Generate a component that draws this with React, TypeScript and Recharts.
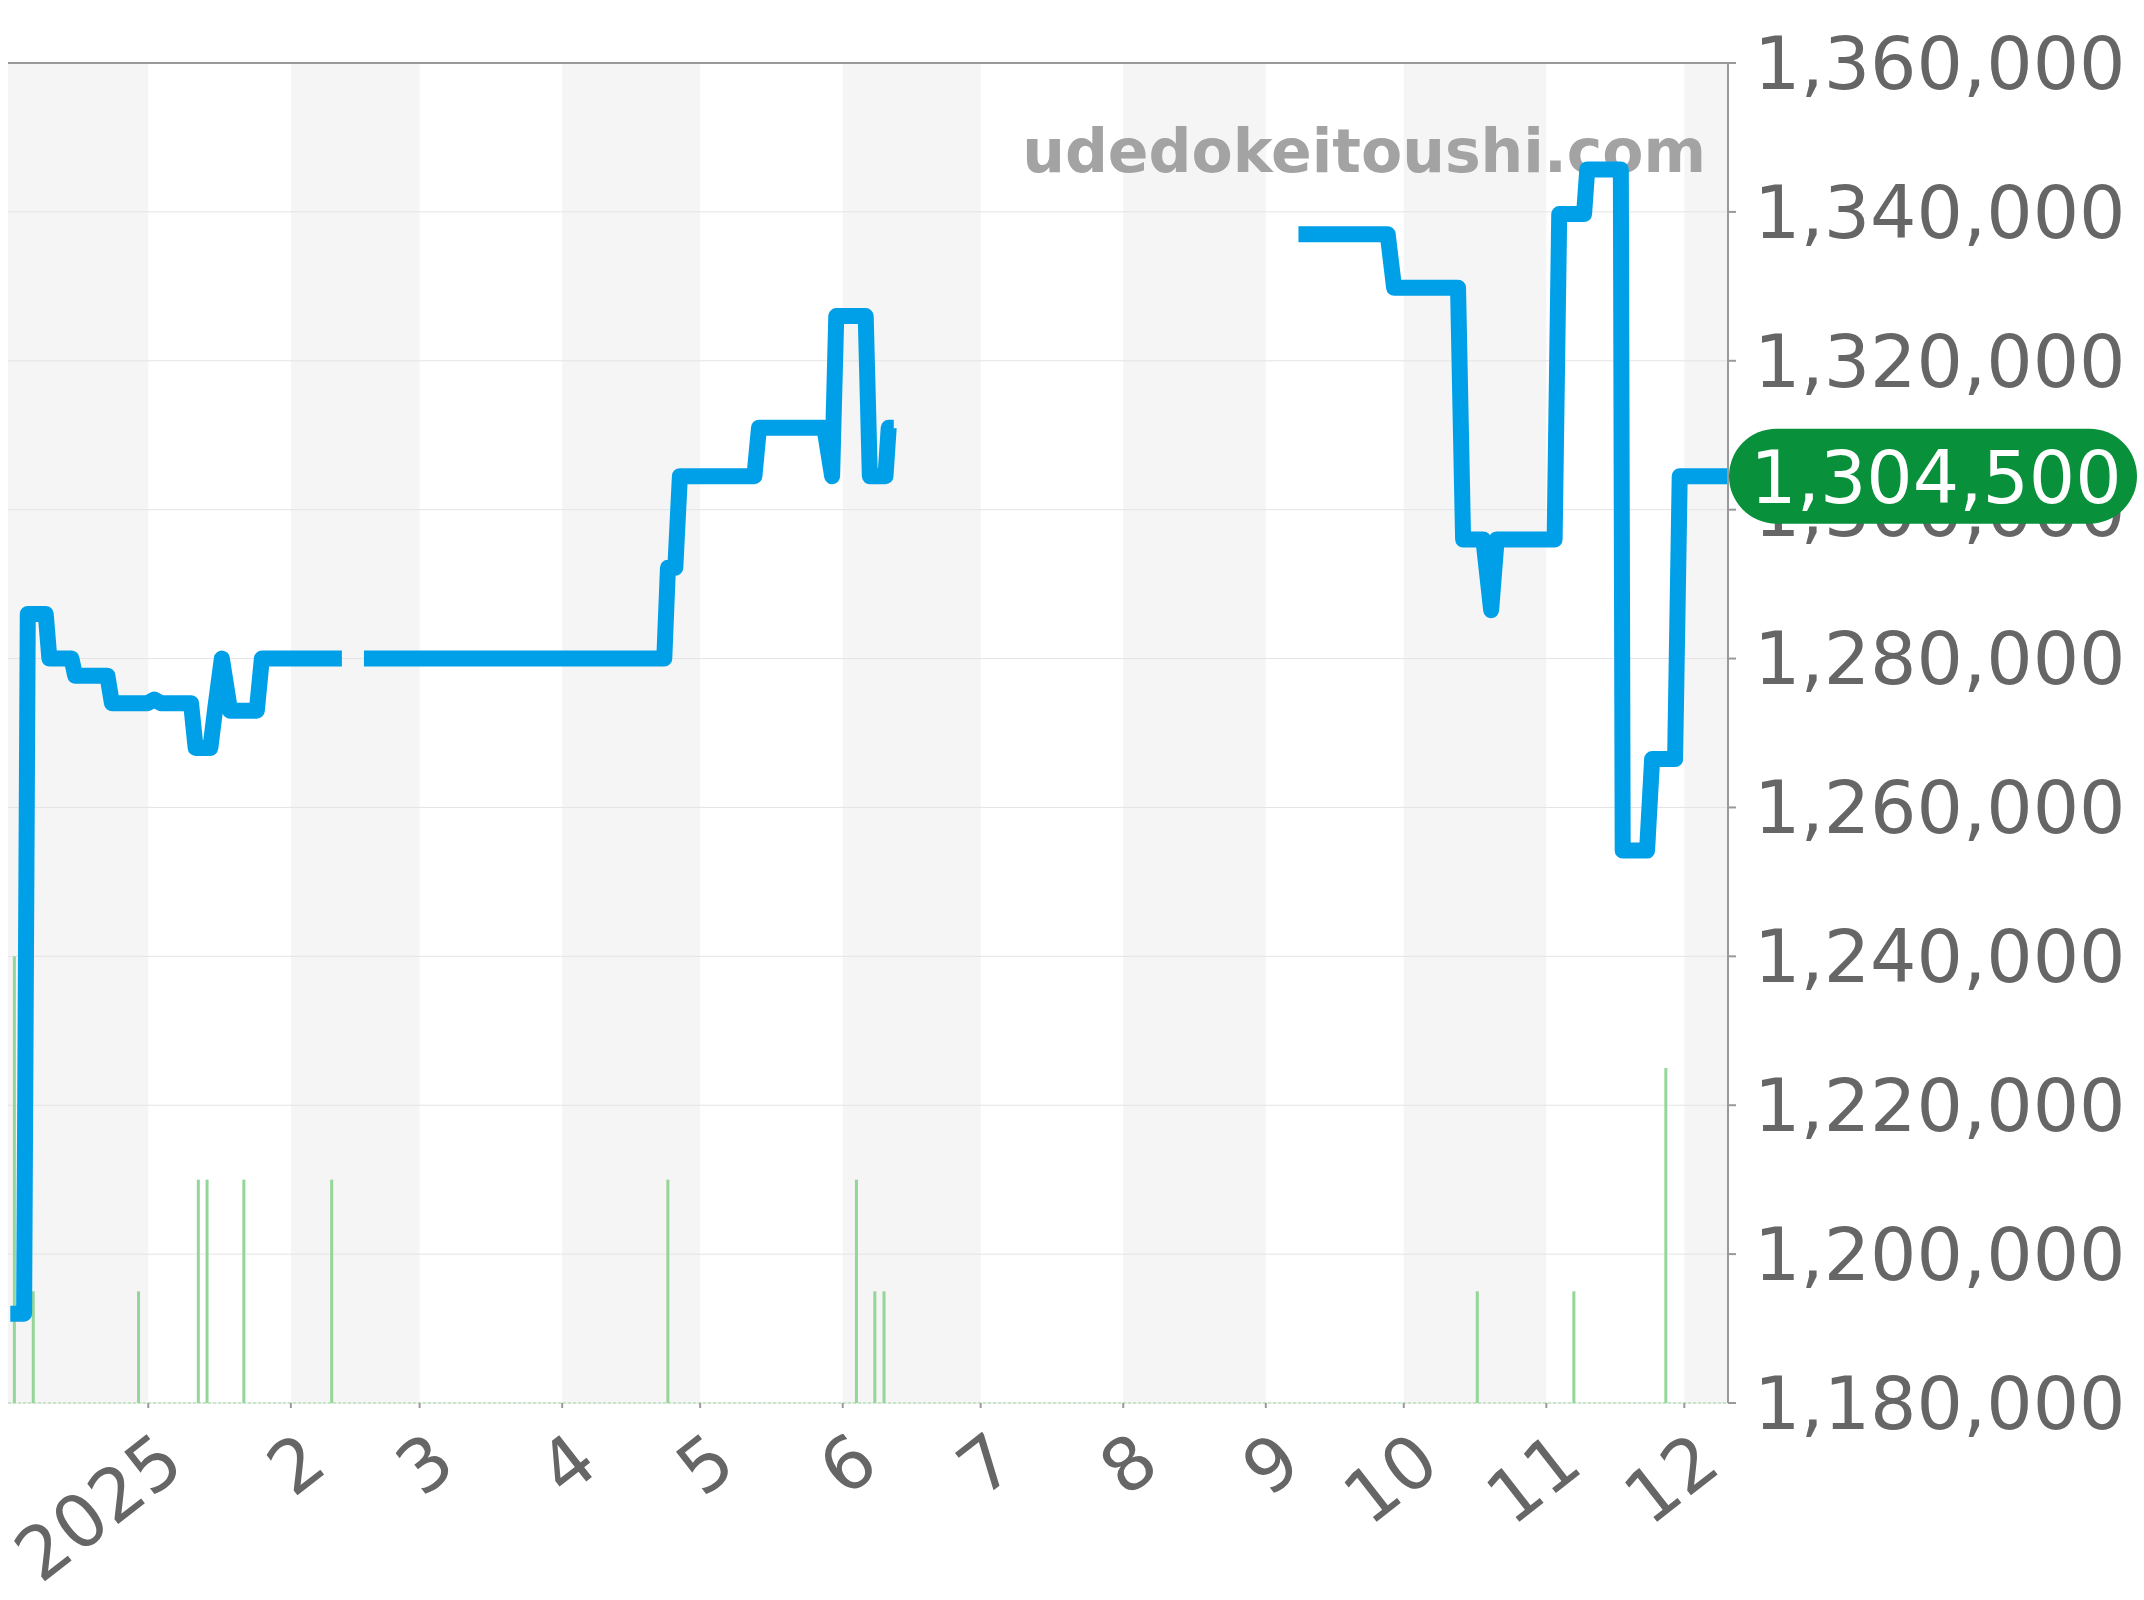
import { ComposedChart, Line, Bar, XAxis, YAxis, CartesianGrid, ReferenceArea, ReferenceLine } from "recharts";

// x values are days counted from 2025-01-01 (negative = December 2024)
const monthTicks = [0, 31, 59, 90, 120, 151, 181, 212, 243, 273, 304, 334];
const monthLabels = ["2025", "2", "3", "4", "5", "6", "7", "8", "9", "10", "11", "12"];

// shaded months: Dec, Feb, Apr, Jun, Aug, Oct, Dec
const bandStarts = [-31, 31, 90, 151, 212, 273, 334];
const bandEnds = [0, 59, 120, 181, 243, 304, 365];

const priceTicks = [1180000, 1200000, 1220000, 1240000, 1260000, 1280000, 1300000, 1320000, 1340000, 1360000];

const priceDays = [
  -30.0, -27.0, -26.2, -22.3, -21.5, -16.7, -15.9, -8.9, -7.9, -0.2, 1.3, 2.8, 9.3, 10.3, 13.5, 14.6, 16.0, 17.8, 23.6, 24.7,
  42.1, 44.5, 46.9, 112.2, 113.0, 114.6, 115.6, 131.8, 132.8, 147.0, 148.7, 149.6, 156.0, 156.9, 160.3, 161.0, 162.1,
  200, 250.1, 269.5, 270.9, 284.8, 285.9, 290.3, 292.0, 293.2, 305.8, 306.8, 312.2, 312.9, 320.2, 320.6, 325.9, 327.0,
  332.0, 333.0, 343.5,
];
const priceValues = [
  1192000, 1192000, 1286000, 1286000, 1280000, 1280000, 1277700, 1277700, 1274000, 1274000, 1274500, 1274000, 1274000,
  1268000, 1268000, 1273500, 1280000, 1273000, 1273000, 1280000,
  1280000, null, 1280000, 1280000, 1292200, 1292200, 1304500, 1304500, 1311000, 1311000, 1304500, 1326000, 1326000,
  1304500, 1304500, 1311000, 1311000,
  null, 1337000, 1337000, 1329800, 1329800, 1296000, 1296000, 1286500, 1296000, 1296000, 1339700, 1339700, 1345700,
  1345700, 1254200, 1254200, 1266500, 1266500, 1304500, 1304500,
];

const volumeDays = [-29.1, -25.0, -2.1, 10.9, 12.8, 20.8, 39.9, 113.0, 154.0, 158.0, 160.0, 289.0, 310.0, 330.0];
const volumeCounts = [4, 1, 1, 2, 2, 2, 2, 2, 2, 1, 1, 1, 1, 3];

const priceData = priceDays.map((day, i) => ({ day, price: priceValues[i] }));
const volumeData = volumeDays.map((day, i) => ({ day, count: volumeCounts[i] }));
const lastPrice = priceValues[priceValues.length - 1] as number;

const FONT = "DejaVu Sans";

document.body.style.margin = "0";
document.body.style.overflow = "hidden";

function MonthTick(props: any) {
  const { x, y, payload } = props;
  const label = monthLabels[monthTicks.indexOf(payload.value)];
  const tx = x + 39;
  const ty = y + 60;
  return (
    <text x={tx} y={ty} transform={`rotate(-38 ${tx} ${ty})`} textAnchor="end" fontSize={73} fill="#666" fontFamily={FONT}>
      {label}
    </text>
  );
}

// thin volume stick, centred on the position recharts computed for the bar
function VolumeStick(props: any) {
  const { x, y, width, height } = props;
  if (!height) return null;
  return <rect x={x + width / 2 - 1.5} y={y} width={3} height={height} fill="#94d697" />;
}

function Watermark(props: any) {
  const vb = props.viewBox;
  return (
    <text x={vb.x + vb.width - 22} y={vb.y + 109} textAnchor="end" fontSize={60} fontWeight="bold" fill="#a3a3a3" fontFamily={FONT}>
      udedokeitoushi.com
    </text>
  );
}

function PriceBadge(props: any) {
  const vb = props.viewBox;
  const left = vb.x + vb.width + 1;
  return (
    <g>
      <rect x={left} y={vb.y - 47.5} width={408} height={95} rx={47.5} ry={47.5} fill="#09903b" />
      <text x={left + 207} y={vb.y + 27} textAnchor="middle" fontSize={73} fill="#fff" fontFamily={FONT}>
        {lastPrice.toLocaleString("en-US")}
      </text>
    </g>
  );
}

export default function App() {
  return (
    <div style={{ width: 2144, height: 1600, background: "#fff", fontFamily: FONT }}>
      <ComposedChart width={2144} height={1600} data={volumeData} margin={{ top: 63, right: 0, bottom: 0, left: 8 }}>
        {bandStarts.map((s, i) => (
          <ReferenceArea
            key={s}
            x1={s}
            x2={bandEnds[i]}
            yAxisId="price"
            fill="#f5f5f5"
            fillOpacity={1}
            stroke="none"
            ifOverflow="hidden"
            zIndex={-150}
          />
        ))}
        <CartesianGrid yAxisId="price" vertical={false} stroke="#e4e4e4" />
        <ReferenceLine yAxisId="price" y={1360000} stroke="#999" strokeWidth={2} label={<Watermark />} />
        <Bar yAxisId="vol" dataKey="count" fill="#94d697" barSize={4} shape={<VolumeStick />} isAnimationActive={false} />
        <Line
          yAxisId="price"
          data={priceData}
          dataKey="price"
          type="linear"
          stroke="#00a0e9"
          strokeWidth={16}
          strokeLinejoin="round"
          dot={false}
          activeDot={false}
          connectNulls={false}
          isAnimationActive={false}
        />
        <XAxis
          dataKey="day"
          type="number"
          domain={[-30.5, 343.5]}
          allowDataOverflow
          ticks={monthTicks}
          interval={0}
          height={197}
          axisLine={{ stroke: "#9fdca3", strokeDasharray: "3 2" }}
          tickLine={{ stroke: "#999", strokeWidth: 2 }}
          tickSize={5}
          tickMargin={2}
          tick={<MonthTick />}
        />
        <YAxis
          yAxisId="price"
          orientation="right"
          type="number"
          domain={[1180000, 1360000]}
          ticks={priceTicks}
          interval={0}
          width={416}
          axisLine={{ stroke: "#999", strokeWidth: 2 }}
          tickLine={{ stroke: "#999", strokeWidth: 2 }}
          tickSize={8}
          tickMargin={18}
          tick={{ fontSize: 73, fill: "#666", fontFamily: FONT }}
          tickFormatter={(v: number) => v.toLocaleString("en-US")}
        />
        <YAxis yAxisId="vol" domain={[0, 12]} hide />
        <ReferenceLine yAxisId="price" y={lastPrice} stroke="none" label={<PriceBadge />} zIndex={2000} />
      </ComposedChart>
    </div>
  );
}
